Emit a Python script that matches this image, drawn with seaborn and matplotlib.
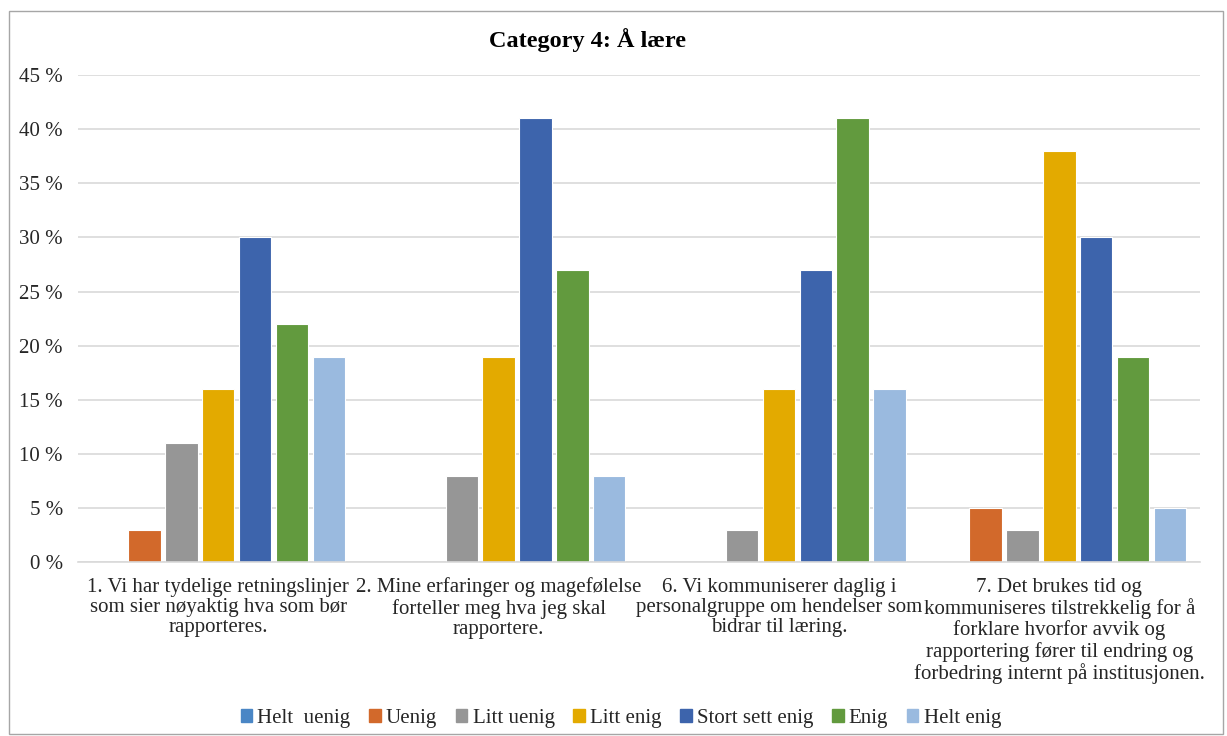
import matplotlib
matplotlib.use("Agg")
import matplotlib.pyplot as plt
import matplotlib.patches as mpatches
from matplotlib.ticker import FuncFormatter, MultipleLocator
import seaborn as sns
import pandas as pd

categories = [
    "1. Vi har tydelige retningslinjer\nsom sier nøyaktig hva som bør\nrapporteres.",
    "2. Mine erfaringer og magefølelse\nforteller meg hva jeg skal\nrapportere.",
    "6. Vi kommuniserer daglig i\npersonalgruppe om hendelser som\nbidrar til læring.",
    "7. Det brukes tid og\nkommuniseres tilstrekkelig for å\nforklare hvorfor avvik og\nrapportering fører til endring og\nforbedring internt på institusjonen.",
]
series = ["Helt  uenig", "Uenig", "Litt uenig", "Litt enig", "Stort sett enig", "Enig", "Helt enig"]
helt_uenig = [0, 0, 0, 0]
uenig = [3, 0, 0, 5]
litt_uenig = [11, 8, 3, 3]
litt_enig = [16, 19, 16, 38]
stort_sett_enig = [30, 41, 27, 30]
enig = [22, 27, 41, 19]
helt_enig = [19, 8, 16, 5]
colors = ["#4A86C5", "#D2692B", "#969696", "#E3AA00", "#3D64AC", "#629A3E", "#9ABADF"]

values = [helt_uenig, uenig, litt_uenig, litt_enig, stort_sett_enig, enig, helt_enig]
rows = []
for s, vals in zip(series, values):
    for c, v in zip(categories, vals):
        rows.append({"Kategori": c, "Svar": s, "Andel": v})
df = pd.DataFrame(rows)

sns.set_theme(style="white")
plt.rcParams["font.family"] = ["Liberation Serif", "DejaVu Serif"]

fig = plt.figure(figsize=(12.27, 7.36), dpi=100)
ax = fig.add_axes([0.0636, 0.236, 0.914, 0.662])

sns.barplot(data=df, x="Kategori", y="Andel", hue="Svar", hue_order=series,
            order=categories, palette=colors, saturation=1, width=0.92, gap=0.12,
            edgecolor="white", linewidth=0.8, ax=ax, legend=False)

ax.set_ylim(0, 45)
ax.yaxis.set_major_locator(MultipleLocator(5))
ax.yaxis.set_major_formatter(FuncFormatter(lambda v, p: f"{int(v)} %"))
ax.grid(axis="y", color="#D9D9D9", linewidth=1.2)
ax.set_axisbelow(True)
for side in ["top", "right", "left"]:
    ax.spines[side].set_visible(False)
ax.spines["bottom"].set_color("#D9D9D9")
ax.spines["bottom"].set_linewidth(1.2)
ax.tick_params(axis="both", length=0, labelsize=15, colors="#262626")
ax.tick_params(axis="x", pad=11)
ax.tick_params(axis="y", pad=11)
for lbl in ax.get_xticklabels():
    lbl.set_linespacing(1.1)
ax.set_xlabel("")
ax.set_ylabel("")
ax.set_xlim(-0.5, 3.5)

fig.text(0.479, 0.945, "Category 4: Å lære", ha="center", va="center",
         fontsize=17.5, fontweight="bold", color="#000000")

handles = [mpatches.Patch(color=c, label=s) for s, c in zip(series, colors)]
fig.legend(handles=handles, loc="center", bbox_to_anchor=(0.506, 0.024), ncol=7,
           frameon=False, fontsize=15, handlelength=0.55, handleheight=0.55,
           handletextpad=0.25, columnspacing=0.9)

border = mpatches.Rectangle((0.007, 0.003), 0.99, 0.982, transform=fig.transFigure,
                            fill=False, edgecolor="#A6A6A6", linewidth=1.0)
fig.patches.append(border)

fig.savefig("out.png", dpi=100, facecolor="white")
